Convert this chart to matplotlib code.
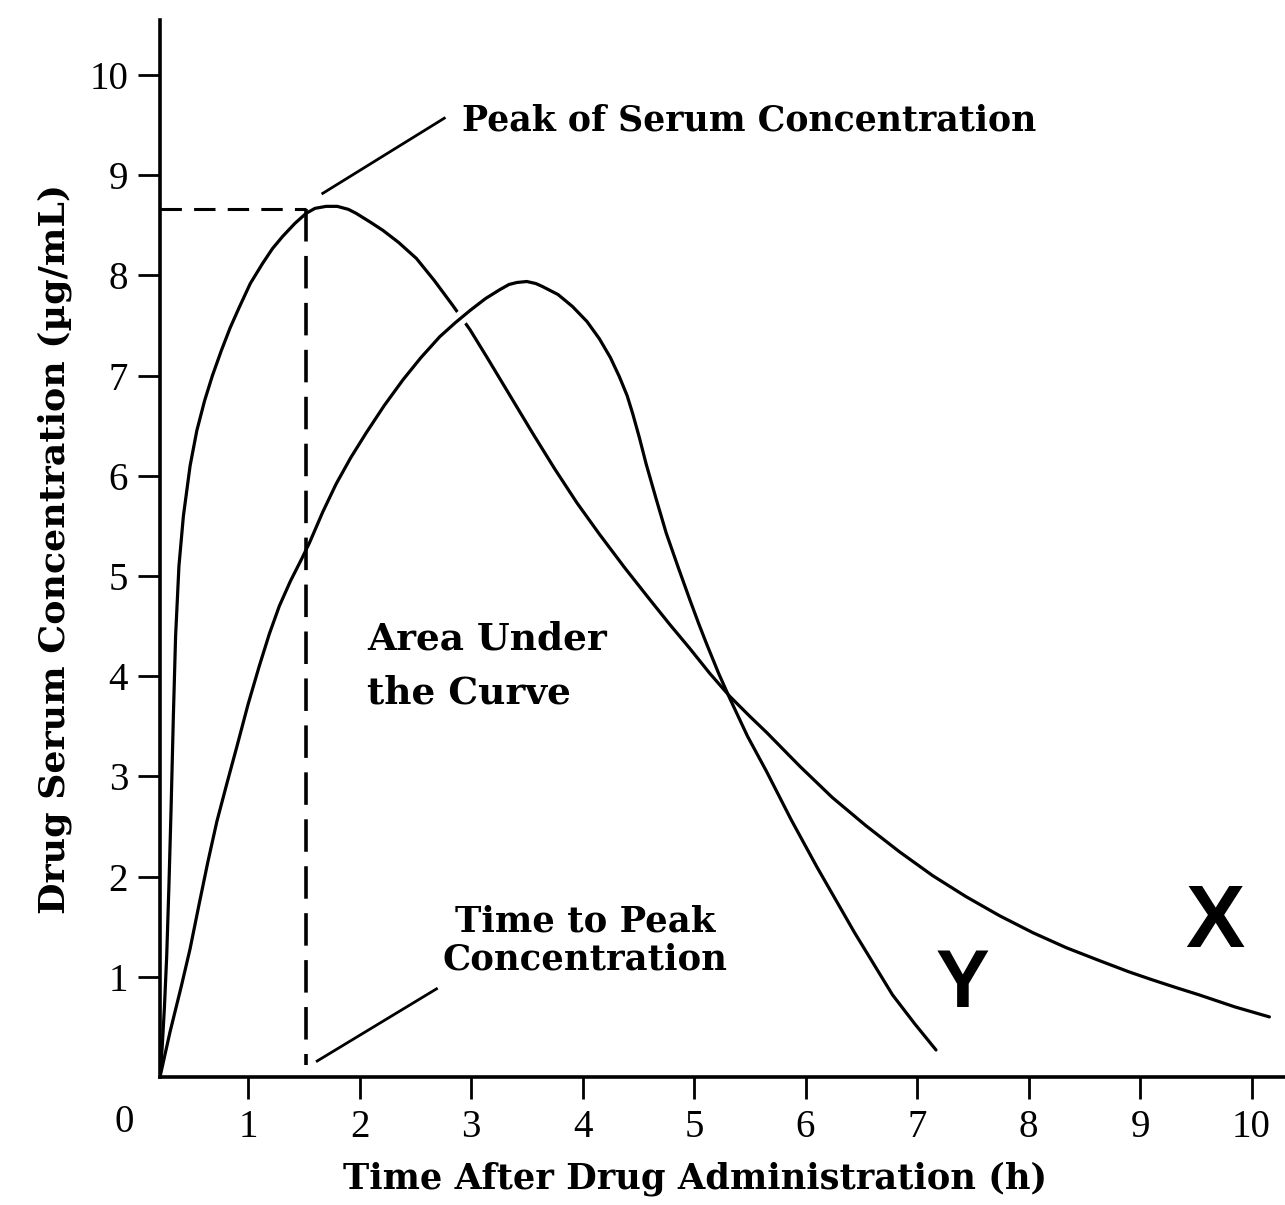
import numpy as np
import matplotlib.pyplot as plt

# curve X: fast absorption, slow elimination
t_x = [0.21, 0.23, 0.25, 0.27, 0.29, 0.31, 0.33, 0.35, 0.38, 0.42, 0.48, 0.54, 0.61,
       0.68, 0.76, 0.84, 0.92, 1.02, 1.13, 1.22, 1.31, 1.42, 1.52, 1.60, 1.70, 1.80,
       1.90, 1.97, 2.10, 2.21, 2.35, 2.51, 2.67, 2.83, 2.99, 3.15, 3.35, 3.55, 3.75,
       3.95, 4.15, 4.38, 4.60, 4.78, 4.96, 5.14, 5.32, 5.50, 5.65, 5.95, 6.24, 6.54,
       6.84, 7.14, 7.44, 7.74, 8.04, 8.34, 8.64, 8.90, 9.11, 9.33, 9.53, 9.85, 10.16]
c_x = [0.0, 0.3, 0.7, 1.2, 1.9, 2.7, 3.6, 4.4, 5.1, 5.6, 6.1, 6.45, 6.75,
       7.0, 7.25, 7.48, 7.68, 7.92, 8.12, 8.27, 8.39, 8.52, 8.62, 8.67, 8.69, 8.69,
       8.66, 8.62, 8.53, 8.45, 8.33, 8.17, 7.95, 7.71, 7.46, 7.17, 6.80, 6.43, 6.07,
       5.73, 5.42, 5.08, 4.77, 4.52, 4.28, 4.03, 3.80, 3.60, 3.44, 3.10, 2.79, 2.51,
       2.25, 2.01, 1.80, 1.61, 1.44, 1.29, 1.16, 1.05, 0.97, 0.89, 0.82, 0.70, 0.60]

# curve Y: slower absorption, fast elimination
t_y = [0.21, 0.30, 0.40, 0.48, 0.56, 0.64, 0.72, 0.81, 0.90, 1.00, 1.10, 1.19, 1.28,
       1.38, 1.48, 1.55, 1.67, 1.79, 1.92, 2.06, 2.22, 2.39, 2.55, 2.72, 2.86, 2.99,
       3.13, 3.26, 3.34, 3.41, 3.50, 3.58, 3.64, 3.78, 3.91, 4.04, 4.15, 4.25, 4.33,
       4.40, 4.45, 4.51, 4.57, 4.66, 4.75, 4.86, 4.96, 5.04, 5.11, 5.22, 5.32, 5.48,
       5.65, 5.87, 6.10, 6.44, 6.78, 6.98, 7.17]
c_y = [0.0, 0.45, 0.9, 1.28, 1.72, 2.15, 2.55, 2.93, 3.30, 3.72, 4.10, 4.42, 4.70,
       4.95, 5.17, 5.33, 5.64, 5.92, 6.18, 6.43, 6.70, 6.96, 7.18, 7.39, 7.53, 7.65,
       7.77, 7.86, 7.91, 7.93, 7.94, 7.92, 7.89, 7.81, 7.69, 7.54, 7.37, 7.18, 6.99,
       6.80, 6.62, 6.38, 6.12, 5.77, 5.43, 5.08, 4.77, 4.53, 4.33, 4.03, 3.78, 3.40,
       3.05, 2.57, 2.10, 1.44, 0.82, 0.53, 0.27]

t_peak = 1.52
c_peak = 8.66

x_ticks = [1, 2, 3, 4, 5, 6, 7, 8, 9, 10]
y_ticks = [1, 2, 3, 4, 5, 6, 7, 8, 9, 10]

tick_font = 'Liberation Serif'
serif = 'DejaVu Serif'

fig = plt.figure(figsize=(12.85, 12.05), dpi=100)
ax = fig.add_axes([0.1245, 0.1062, 0.8755, 0.8772])

ax.plot(t_x, c_x, color='black', lw=2.3, solid_capstyle='round', zorder=2)
# white halo where Y crosses over X near its top
ax.plot(t_y[22:28], c_y[22:28], color='white', lw=10, zorder=3)
ax.plot(t_y, c_y, color='black', lw=2.3, solid_capstyle='round', zorder=4)

# dashed guide lines to the peak
ax.plot([0.21, t_peak], [c_peak, c_peak], color='black', lw=2.2, dashes=(7, 4))
ax.plot([t_peak, t_peak], [c_peak, 0.12], color='black', lw=2.6, dashes=(9, 4))

ax.set_xlim(0.21, 10.3)
ax.set_ylim(0.0, 10.55)

for s in ['top', 'right']:
    ax.spines[s].set_visible(False)
for s in ['left', 'bottom']:
    ax.spines[s].set_linewidth(2.6)

ax.set_xticks(x_ticks)
ax.set_yticks(y_ticks)
ax.tick_params(direction='out', length=16, width=2, pad=7)
for lab in ax.get_xticklabels() + ax.get_yticklabels():
    lab.set_fontfamily(tick_font)
    lab.set_fontsize(28)
ax.text(-0.11, -0.45, '0', fontsize=28, family=tick_font, ha='center', va='center',
        clip_on=False)

ax.set_xlabel('Time After Drug Administration (h)', fontsize=25.4, family=serif,
              fontweight='bold')
ax.xaxis.set_label_coords(0.4756, -0.080)
ax.set_ylabel('Drug Serum Concentration (µg/mL)', fontsize=26.2, family=serif,
              fontweight='bold', labelpad=12)

# annotations
ax.text(2.92, 9.55, 'Peak of Serum Concentration', fontsize=25, family=serif,
        fontweight='bold', ha='left', va='center')
ax.plot([1.67, 2.76], [8.82, 9.57], color='black', lw=2)

ax.text(2.07, 4.10, 'Area Under\nthe Curve', fontsize=27, family=serif,
        fontweight='bold', ha='left', va='center', linespacing=1.6)

ax.text(4.02, 1.36, 'Time to Peak\nConcentration', fontsize=25.5, family=serif,
        fontweight='bold', ha='center', va='center', linespacing=1.15)
ax.plot([1.62, 2.69], [0.16, 0.88], color='black', lw=2)

ax.text(7.41, 0.91, 'Y', fontsize=58, family='Liberation Sans', fontweight='bold',
        ha='center', va='center')
ax.text(9.67, 1.53, 'X', fontsize=64, family='Liberation Sans', fontweight='bold',
        ha='center', va='center')

fig.savefig('out.png', dpi=100)
